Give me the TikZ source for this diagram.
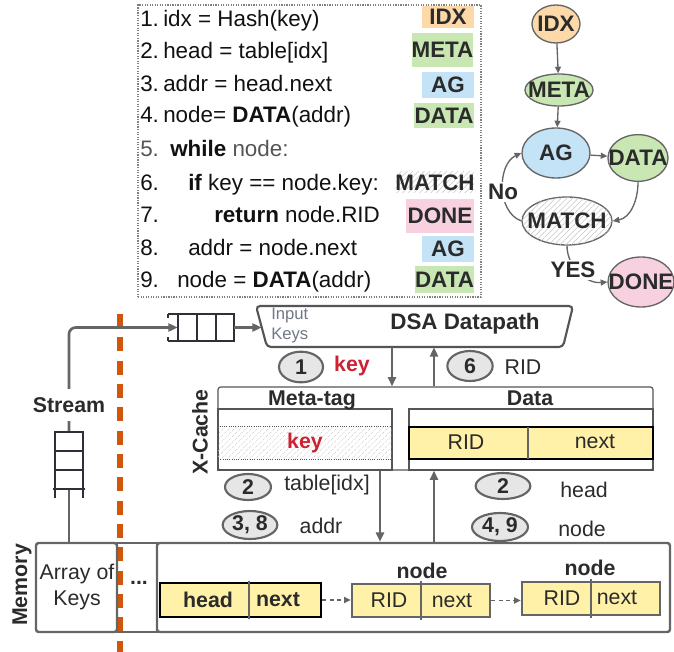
\documentclass[tikz,border=0pt]{standalone}
\usepackage{fontspec}
\setmainfont{Liberation Sans}
\usetikzlibrary{arrows.meta,shapes.geometric,patterns.meta,fit,calc}

\definecolor{linegray}{HTML}{656565}
\definecolor{cachegray}{HTML}{555555}
\definecolor{ink}{HTML}{2B2B2B}
\definecolor{codeink}{HTML}{111111}
\definecolor{codegray}{HTML}{555555}
\definecolor{keysgray}{HTML}{727888}
\definecolor{dashorange}{HTML}{D2560A}
\definecolor{cellyellow}{HTML}{FFF1A8}
\definecolor{idxorange}{HTML}{FDD8A8}
\definecolor{metagreen}{HTML}{C8E7B3}
\definecolor{agblue}{HTML}{C4E3F6}
\definecolor{donepink}{HTML}{F8D1E1}
\definecolor{keyred}{HTML}{CC2233}
\definecolor{bubble}{HTML}{E6E6E6}
\definecolor{queueink}{HTML}{2E3038}

\newcommand\codefont{\fontsize{16.8}{20}\selectfont}
\newcommand\labfont{\fontsize{16}{19}\selectfont}

\begin{document}
\begin{tikzpicture}[x=0.75pt,y=-0.75pt,
  every node/.style={font=\labfont, text=ink, inner sep=0pt},
  bf/.style={font=\labfont\bfseries},
  codeline/.style={anchor=base west, font=\codefont, text=codeink},
  tagtext/.style={font=\codefont\bfseries, text=ink},
  gline/.style={draw=linegray, line width=2pt},
  garr/.style={draw=linegray, line width=2pt, -{Triangle[length=7pt,width=6pt]}},
  farr/.style={draw=linegray, line width=1pt, -{Triangle[length=5pt,width=4.5pt]}},
  darr/.style={draw=linegray, line width=1.3pt, dash pattern=on 3pt off 2.5pt, -{Triangle[length=5pt,width=4.5pt]}},
  hatch/.style={pattern={Lines[angle=45,distance=3pt,line width=0.4pt]}, pattern color=gray!45},
  flow/.style={ellipse, draw=linegray, line width=1pt, inner sep=0pt},
  bubblenode/.style={ellipse, draw=linegray, line width=1.6pt, fill=bubble},
  bubbletext/.style={font=\fontsize{16}{19}\selectfont\bfseries, text=ink},
  qline/.style={draw=queueink, line width=1.2pt},
]
\useasboundingbox (0,0) rectangle (674,652);

% ---------- pseudo-code listing ----------
\node[fit={(138,5)(481,297)}, draw=gray, densely dotted, line width=0.9pt] (code) {};
\node[codeline] (l1n) at (140,27) {1.};
\node[codeline] (l1) at (163,27) {idx = Hash(key)};
\node[codeline] (l2n) at (140,59) {2.};
\node[codeline] (l2) at (163,59) {head = table[idx]};
\node[codeline] (l3n) at (140,92) {3.};
\node[codeline] (l3) at (163,92) {addr = head.next};
\node[codeline] (l4n) at (140,123) {4.};
\node[codeline] (l4) at (163,123) {node= \textbf{DATA}(addr)};
\node[codeline, text=codegray] (l5n) at (140,157) {5.};
\node[codeline] (l5) at (170,157) {\textbf{while} \textcolor{codegray}{node:}};
\node[codeline] (l6n) at (140,191) {6.};
\node[codeline] (l6) at (188,191) {\textbf{if} key == node.key:};
\node[codeline] (l7n) at (140,223) {7.};
\node[codeline] (l7) at (214,223) {\textbf{return} node.RID};
\node[codeline] (l8n) at (140,255) {8.};
\node[codeline] (l8) at (188,255) {addr = node.next};
\node[codeline] (l9n) at (140,287) {9.};
\node[codeline] (l9) at (177,287) {node = \textbf{DATA}(addr)};

% stage tags beside the listing
\node[fit={(422,6)(474,28)}, fill=idxorange] (tg1) {};
\node[tagtext] at (tg1) {IDX};
\node[fit={(412,33)(473,67)}, fill=metagreen] (tg2) {};
\node[tagtext] at (tg2) {META};
\node[fit={(422,72)(474,98)}, fill=agblue] (tg3) {};
\node[tagtext] at (tg3) {AG};
\node[fit={(414,103)(474,128)}, fill=metagreen] (tg4) {};
\node[tagtext] at (tg4) {DATA};
\node[fit={(396,172)(474,193)}, hatch] (tg6) {};
\node[tagtext] at (tg6) {MATCH};
\node[fit={(406,199)(474,233)}, fill=donepink] (tg7) {};
\node[tagtext] at (tg7) {DONE};
\node[fit={(422,236)(474,262)}, fill=agblue] (tg8) {};
\node[tagtext] at (tg8) {AG};
\node[fit={(415,266)(474,293)}, fill=metagreen] (tg9) {};
\node[tagtext] at (tg9) {DATA};

% ---------- stage flow graph ----------
\node[flow, fill=idxorange, minimum width=36pt, minimum height=28.5pt,
      label={[tagtext]center:IDX}] (fi) at (556,24) {};
\node[flow, fill=metagreen, minimum width=51pt, minimum height=24pt,
      label={[tagtext]center:META}] (fm) at (559,90) {};
\node[flow, fill=agblue, minimum width=51pt, minimum height=37.5pt,
      label={[tagtext]center:AG}] (fa) at (556,153) {};
\node[flow, fill=metagreen, minimum width=45pt, minimum height=35pt,
      label={[tagtext]center:DATA}] (fd) at (638,158) {};
\node[flow, fill=white, minimum width=67.5pt, minimum height=36pt] (fmatch) at (567,221) {};
\node[ellipse, hatch, minimum width=67.5pt, minimum height=36pt,
      label={[tagtext]center:MATCH}] at (fmatch) {};
\node[flow, fill=donepink, minimum width=49.5pt, minimum height=37.5pt,
      label={[tagtext]center:DONE}] (fdone) at (641,282) {};

\draw[farr] (fi) -- (fm);
\draw[farr] (fm) -- (fa);
\draw[farr] (fa) -- (fd);
\draw[farr] (fd.south) to[out=-90,in=10] (fmatch.east);
\draw[farr] (fmatch.west) to[out=160,in=205] (fa.west);
\draw[farr] (fmatch.south) to[out=-90,in=185] (fdone.west);
\node[tagtext, fill=white, inner sep=1.5pt] (no) at (503,192) {No};
\node[tagtext, fill=white, inner sep=1.5pt] (yes) at (573,270) {YES};

% ---------- boundary between host and accelerator ----------
\draw[dashorange, line width=4pt, dash pattern=on 10.5pt off 7pt] (120,314) -- (120,652);

% ---------- key stream and input queue ----------
\node[fit={(36,543)(117,632)}, draw=linegray, line width=1.8pt, rounded corners=2pt] (arr) {};
\node[align=center, font=\fontsize{16}{20}\selectfont, text=ink] at (77,587) {Array of\\Keys};
\node[fit={(117,543)(157,632)}, draw=linegray, line width=1pt] (gap) {};
\node[bf] at (139,583) {...};

\node[fit={(55,432)(83,489)}] (sq) {};
\node[fit={(178,314)(234,341)}] (tq) {};
\draw[gline] (arr.north -| sq) -- (sq.south);
\draw[garr, rounded corners=5pt] (sq.north) |- (tq.west);
\node[bf, fill=white, inner xsep=1pt, inner ysep=6pt] (stream) at (69,405) {Stream};

% stream queue (vertical)
\draw[qline, fill=white] (55,432) rectangle (83,489);
\draw[qline] (55,451) -- (83,451) (55,470) -- (83,470);
\draw[qline] (55,489) -- (55,498) (83,489) -- (83,498) (53,489) -- (85,489);
% input queue (horizontal)
\draw[qline, fill=white] (178,314) rectangle (234,341);
\draw[qline] (197,314) -- (197,341) (216,314) -- (216,341);
\draw[qline] (168,314) -- (178,314) (168,341) -- (178,341);
\draw[qline] (168,314) -- (168,318) (168,337) -- (168,341);

% ---------- DSA datapath ----------
\draw[draw=cachegray, line width=1.6pt, rounded corners=3pt, fill=white]
  (256,306) -- (573,306) -- (563,347) -- (267,347) -- cycle;
\node[fit={(262,306)(568,347)}] (dsa) {};
\node[anchor=west, font=\fontsize{12.5}{15}\selectfont, text=keysgray] at (271,315) {Input};
\node[anchor=west, font=\fontsize{12.5}{15}\selectfont, text=keysgray] at (271,335) {Keys};
\node[font=\fontsize{16.8}{20}\selectfont\bfseries, text=ink] at (465,324) {DSA Datapath};
\draw[garr] (tq.east) -- (tq.east -| dsa.west);

% ---------- X-Cache ----------
\node[fit={(218,387)(653,470)}, draw=cachegray, line width=0.9pt, rounded corners=2pt] (xc) {};
\node[fit={(218,409)(392,470)}, draw=cachegray, line width=0.9pt] (mt) {};
\node[fit={(409,409)(653,470)}, draw=cachegray, line width=0.9pt] (dt) {};
\node[bf, anchor=base] at (312,405) {Meta-tag};
\node[bf, anchor=base] at (530,405) {Data};
\node[fit={(218,426)(392,459)}, hatch, draw=cachegray, densely dotted, line width=0.7pt] (kr) {};
\node[bf, text=keyred] at (kr) {key};
\node[fit={(409,427)(653,459)}, fill=cellyellow, draw=black, line width=2.2pt] (cr) {};
\draw[linegray, line width=1.2pt] (528,427) -- (528,459);
\node at (466,442) {RID};
\node at (595,442) {next};
\node[bf, rotate=90] at (200,432) {X-Cache};

% traffic between datapath and cache
\coordinate (xdn) at (392,0);
\coordinate (xup) at (434,0);
\draw[garr] (dsa.south -| xdn) -- (xc.north -| xdn);
\draw[garr] (xc.north -| xup) -- (dsa.south -| xup);
\node[bubblenode, minimum width=33pt, minimum height=23pt, label={[bubbletext]center:1}] (b1) at (301,367) {};
\node[bf, text=keyred] at (352,366) {key};
\node[bubblenode, minimum width=34pt, minimum height=22.5pt, label={[bubbletext]center:6}] (b6) at (470,366) {};
\node at (523,367) {RID};

% ---------- memory ----------
\node[fit={(157,543)(670,632)}, draw=linegray, line width=1.8pt, rounded corners=2pt] (mem) {};
\node[bf, rotate=90] at (22,585) {Memory};

% traffic between cache and memory
\coordinate (mdn) at (380,0);
\coordinate (mup) at (434,0);
\draw[garr] (mt.south -| mdn) -- (mem.north -| mdn);
\draw[garr] (mem.north -| mup) -- (dt.south -| mup);
\node[bubblenode, minimum width=34.5pt, minimum height=19.5pt, label={[bubbletext]center:2}] (b2a) at (248,487) {};
\node at (327,485) {table[idx]};
\node[bubblenode, minimum width=41pt, minimum height=21pt, label={[bubbletext]center:{3, 8}}] (b38) at (250,525) {};
\node at (321,526) {addr};
\node[bubblenode, minimum width=41pt, minimum height=19.5pt, label={[bubbletext]center:2}] (b2b) at (503,486) {};
\node at (584,490) {head};
\node[bubblenode, minimum width=42pt, minimum height=21pt, label={[bubbletext]center:{4, 9}}] (b49) at (500,527) {};
\node at (582,529) {node};

% linked list in memory
\node[fit={(160,583)(321,617)}, fill=cellyellow, draw=black, line width=2.2pt] (hb) {};
\draw[linegray, line width=1pt] (249,581) -- (249,619);
\node[bf] at (208,600) {head};
\node[bf] at (278,600) {next};

\node[fit={(352,584)(490,617)}, fill=cellyellow, draw=linegray, line width=1.9pt] (n1) {};
\draw[linegray, line width=1.9pt] (421,581) -- (421,620);
\node at (389,600) {RID};
\node at (452,601) {next};
\node[bf] at (422,571) {node};

\node[fit={(522,582)(660,615)}, fill=cellyellow, draw=linegray, line width=1.9pt] (n2) {};
\draw[linegray, line width=1.9pt] (591,579) -- (591,618);
\node at (562,598) {RID};
\node at (617,598) {next};
\node[bf] at (590,568) {node};

\draw[darr] (hb.east) -- (hb.east -| n1.west);
\draw[darr] (n1.east) -- (n1.east -| n2.west);
\end{tikzpicture}
\end{document}
